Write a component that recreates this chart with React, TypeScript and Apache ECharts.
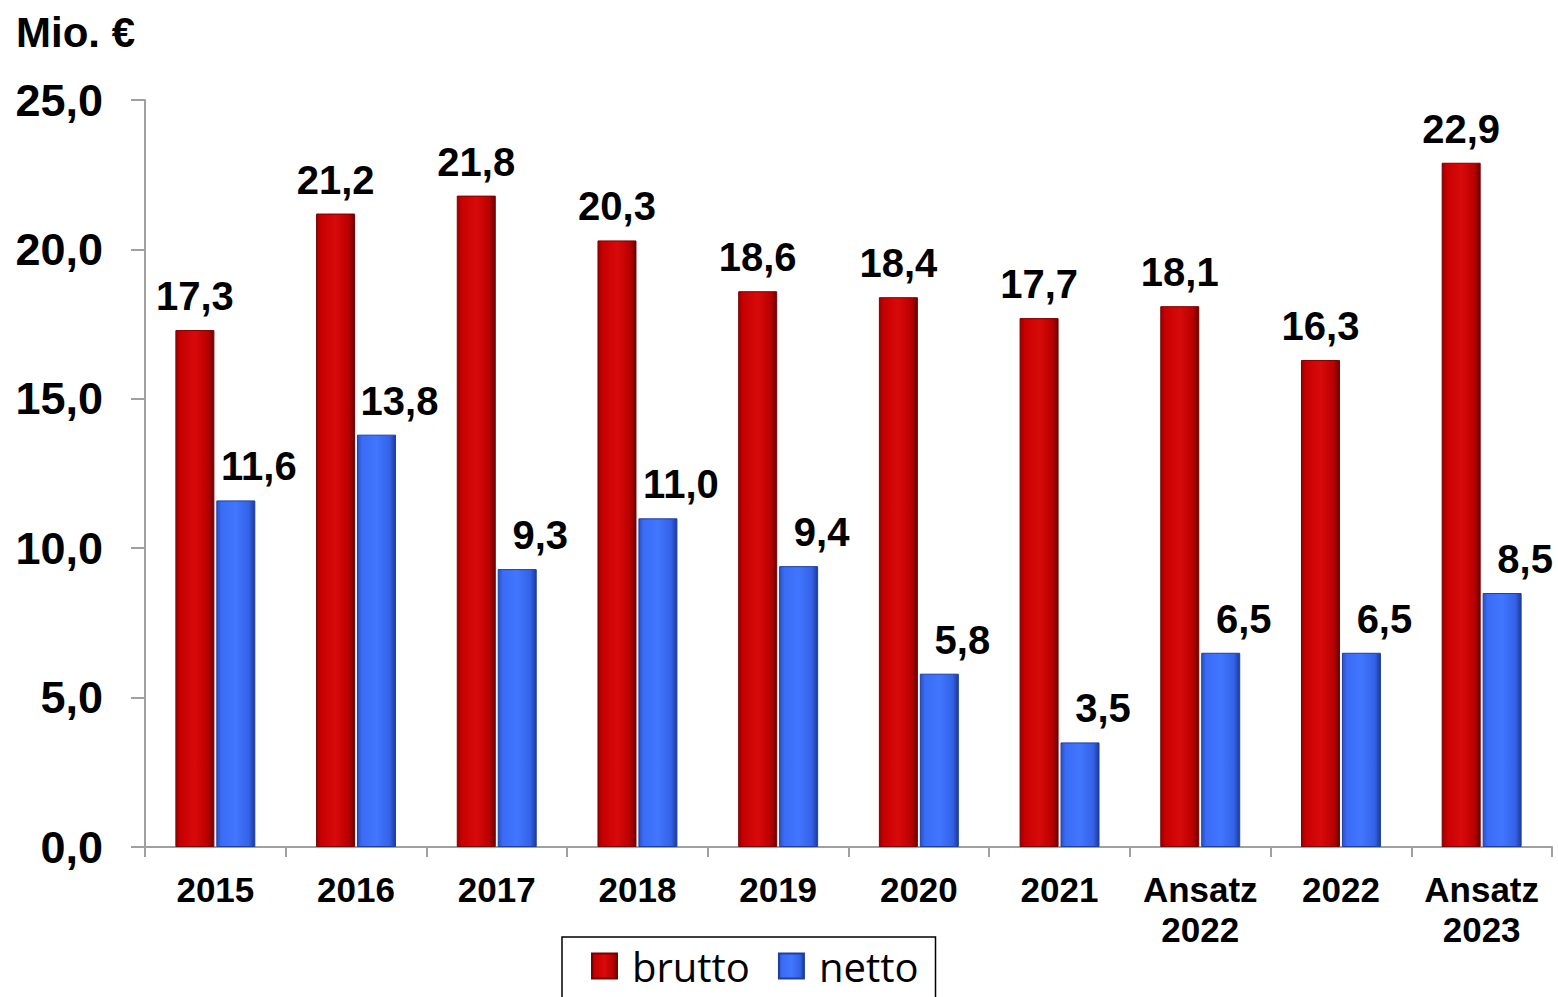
import React, { useEffect, useRef } from "react";
import * as echarts from "echarts";

const categories = ["2015", "2016", "2017", "2018", "2019", "2020", "2021", "Ansatz\n2022", "2022", "Ansatz\n2023"];
const brutto = [17.3, 21.2, 21.8, 20.3, 18.6, 18.4, 17.7, 18.1, 16.3, 22.9];
const netto = [11.6, 13.8, 9.3, 11.0, 9.4, 5.8, 3.5, 6.5, 6.5, 8.5];
const seriesNames = ["brutto", "netto"];
const unitLabel = "Mio. €";

const fmt = (v: number) => v.toFixed(1).replace(".", ",");

const redGrad = new echarts.graphic.LinearGradient(0, 0, 1, 0, [
  { offset: 0, color: "#9a0000" },
  { offset: 0.12, color: "#c80000" },
  { offset: 0.5, color: "#d80a0a" },
  { offset: 0.85, color: "#b80000" },
  { offset: 1, color: "#6a0000" },
]);
const blueGrad = new echarts.graphic.LinearGradient(0, 0, 1, 0, [
  { offset: 0, color: "#2a50c8" },
  { offset: 0.12, color: "#3a6cf5" },
  { offset: 0.5, color: "#4176ff" },
  { offset: 0.85, color: "#3362e6" },
  { offset: 1, color: "#1c3a9a" },
]);

export default function App() {
  const ref = useRef<HTMLDivElement>(null);
  useEffect(() => {
    if (!ref.current) return;
    const chart = echarts.init(ref.current, null, { renderer: "svg" });
    const labelFont = {
      fontFamily: "Liberation Sans, Arial, sans-serif",
      fontWeight: "bold" as const,
      color: "#000",
    };
    chart.setOption({
      animation: false,
      backgroundColor: "#fff",
      grid: { left: 145, right: 6, top: 100, bottom: 150, containLabel: false },
      graphic: [
        {
          type: "text",
          left: 16,
          top: 11,
          style: { text: unitLabel, font: "bold 42px 'Liberation Sans', Arial, sans-serif", fill: "#000" },
        },
      ],
      legend: {
        data: seriesNames,
        icon: "rect",
        left: 562,
        top: 937,
        padding: [9, 17, 30, 29],
        itemGap: 28,
        itemWidth: 25,
        itemHeight: 25,
        borderColor: "#000",
        borderWidth: 1.5,
        textStyle: { fontFamily: "Open Sans, sans-serif", fontSize: 40, color: "#000", padding: [0, 0, 0, 10] },
      },
      xAxis: {
        type: "category",
        data: categories,
        axisLine: { lineStyle: { color: "#a0a0a0", width: 2 } },
        axisTick: { show: true, length: 10, lineStyle: { color: "#a0a0a0", width: 2 } },
        axisLabel: { ...labelFont, fontSize: 35, lineHeight: 40, margin: 22, interval: 0 },
      },
      yAxis: {
        type: "value",
        min: 0,
        max: 25,
        interval: 5,
        splitLine: { show: false },
        axisLine: { show: true, lineStyle: { color: "#a0a0a0", width: 2 } },
        axisTick: { show: true, length: 14, lineStyle: { color: "#a0a0a0", width: 2 } },
        axisLabel: { ...labelFont, fontSize: 45, margin: 42, formatter: (v: number) => fmt(v) },
      },
      series: [
        {
          name: seriesNames[0],
          type: "bar",
          data: brutto,
          barWidth: 39,
          barGap: "5%",
          itemStyle: { color: redGrad, borderColor: "#7a0000", borderWidth: 1 },
          label: {
            show: true,
            position: "top",
            distance: 14,
            ...labelFont,
            fontSize: 40,
            formatter: (p: any) => fmt(p.value),
          },
        },
        {
          name: seriesNames[1],
          type: "bar",
          data: netto,
          barWidth: 39,
          itemStyle: { color: blueGrad, borderColor: "#1f3f9f", borderWidth: 1 },
          label: {
            show: true,
            position: "top",
            distance: 14,
            offset: [23, 0],
            ...labelFont,
            fontSize: 40,
            formatter: (p: any) => fmt(p.value),
          },
        },
      ],
    });
    return () => chart.dispose();
  }, []);
  return <div ref={ref} style={{ width: 1558, height: 997, position: "absolute", left: 0, top: 0 }} />;
}
